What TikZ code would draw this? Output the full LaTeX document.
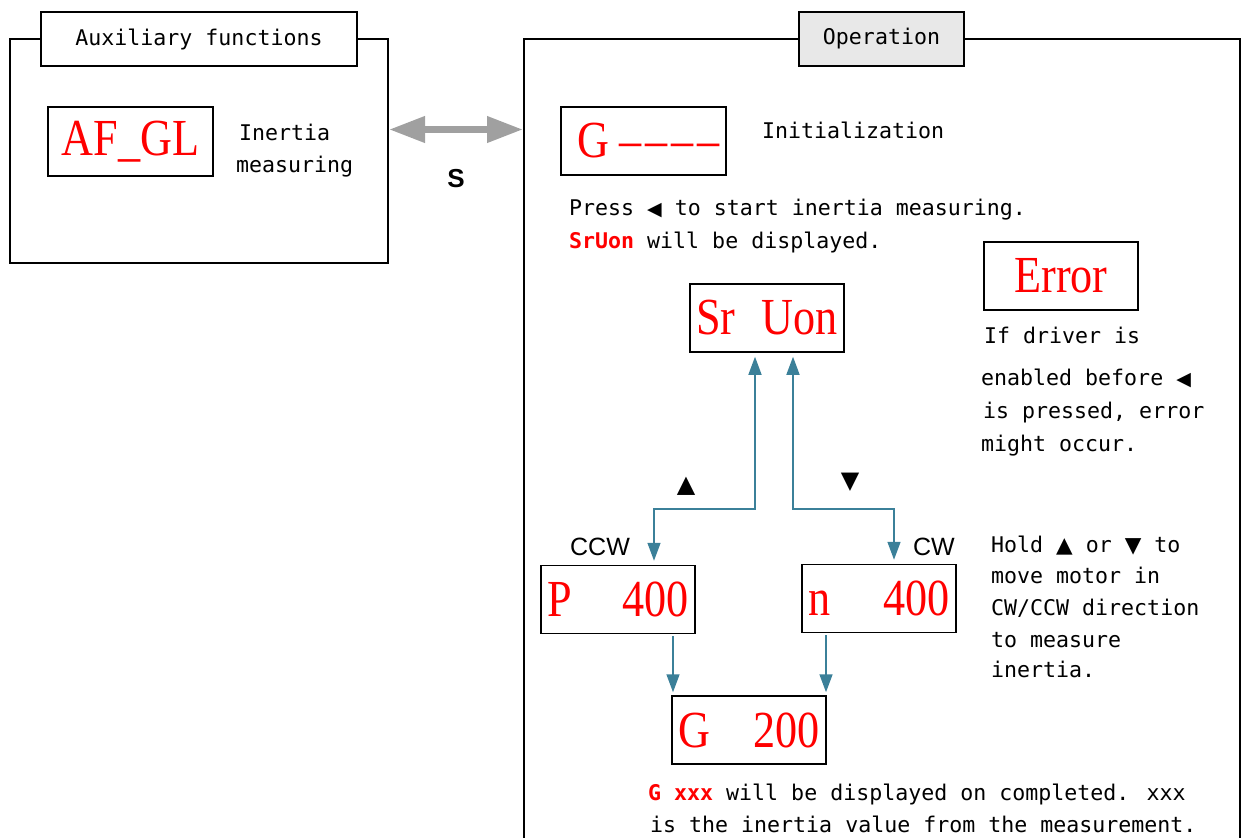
\documentclass[tikz,border=0pt]{standalone}
\usepackage{fontspec}
\usetikzlibrary{arrows.meta}
\setmainfont{DejaVu Sans Mono}
\newfontfamily\dispfont[FakeStretch=0.85]{Liberation Serif}
\newfontfamily\symfont{DejaVu Sans}
\newfontfamily\labfont{Liberation Sans}
\definecolor{lcd}{HTML}{FF0000}
\definecolor{link}{HTML}{3B8099}
\definecolor{swapgray}{HTML}{A0A0A0}
\definecolor{tabgray}{HTML}{E8E8E8}
\newcommand{\keyleft}{{\symfont\fontsize{19}{19}\selectfont ◀}}
\newcommand{\keyup}{{\symfont ▲}}
\newcommand{\keydown}{{\symfont ▼}}

\begin{document}
\begin{tikzpicture}[x=1pt,y=-1pt,
  panel/.style={line width=1.5pt},
  tabbox/.style={draw,line width=1.5pt,minimum width=#1,minimum height=54pt,inner sep=0pt,font=\fontsize{21.6}{21.6}\selectfont},
  lcdbox/.style={draw,line width=1.5pt,minimum width=154pt,minimum height=68pt,inner sep=0pt,text=lcd,font=\dispfont\fontsize{52}{52}\selectfont},
  note/.style={anchor=base west,inner sep=0pt,font=\fontsize{21.6}{21.6}\selectfont},
  link/.style={draw=link,line width=1.5pt,shorten <=4pt,shorten >=4pt,{Triangle[length=18pt,width=13pt]}-{Triangle[length=18pt,width=13pt]}},
  down/.style={draw=link,line width=1.5pt,shorten <=2pt,shorten >=3pt,-{Triangle[length=18pt,width=13pt]}},
  tri/.style={inner sep=0pt,font=\symfont\fontsize{24}{24}\selectfont},
  dirlabel/.style={anchor=base,inner sep=0pt,font=\labfont\fontsize{25}{25}\selectfont}]
  \useasboundingbox (0,0) rectangle (1248,838);

  % left panel
  \draw[panel] (10,39) rectangle (388,263);
  \node[tabbox=316pt,fill=white] (auxtab) at (199,39) {Auxiliary functions};
  \node[lcdbox,minimum width=165pt,minimum height=69pt] (afgl) at (130.5,141.5) {AF\_GL};
  \node[note] (inertia) at (239,140) {Inertia};
  \node[note] (measuring) at (236,172) {measuring};

  % switching between panels
  \coordinate (auxedge) at (389,129.5);
  \coordinate (opedge) at (523,129.5);
  \draw[swapgray,line width=7pt,{Triangle[length=36pt,width=25pt]}-{Triangle[length=36pt,width=25pt]}] (auxedge) -- (opedge);
  \node[anchor=base,inner sep=0pt,font=\labfont\bfseries\fontsize{26}{26}\selectfont] (skey) at (456,187) {S};

  % right panel
  \draw[panel] (524,838) -- (524,39) -- (1240,39) -- (1240,838);
  \node[tabbox=165pt,fill=tabgray] (optab) at (881.5,39) {Operation};

  \node[lcdbox,minimum width=165pt,text width=152pt] (init) at (643.5,141) {\hspace*{10pt}G\hfill –\kern4pt–\kern4pt–\kern4pt–};
  \node[note] (initnote) at (762,138) {Initialization};
  \node[note] (press) at (569,215) {Press \keyleft{} to start inertia measuring.};
  \node[note] (shown) at (569,248) {\textcolor{lcd}{\bfseries SrUon} will be displayed.};

  \node[lcdbox] (err) at (1061,276) {Error};
  \node[note] (err1) at (984,343) {If driver is};
  \node[note] (err2) at (981,385) {enabled before \keyleft};
  \node[note] (err3) at (983,418) {is pressed, error};
  \node[note] (err4) at (981,451) {might occur.};

  \node[lcdbox] (srun) at (767,318) {Sr\hspace{26pt}Uon};
  \node[lcdbox,text width=142pt] (ccwbox) at (618,599.5) {P\hfill 400};
  \node[lcdbox,text width=142pt] (cwbox) at (879,598.5) {n\hfill 400};
  \node[lcdbox,text width=142pt] (done) at (749,730) {G\hfill 200};

  \draw[link] ([xshift=-12pt]srun.south) -- ++(0,156) -| ([xshift=36pt]ccwbox.north);
  \draw[link] ([xshift=26pt]srun.south) -- ++(0,156) -| ([xshift=15pt]cwbox.north);
  \draw[down] ([xshift=55pt]ccwbox.south) -- ([xshift=55pt]ccwbox.south |- done.north);
  \draw[down] ([xshift=-53pt]cwbox.south) -- ([xshift=-53pt]cwbox.south |- done.north);

  \node[tri] (upkey) at (686,486) {▲};
  \node[tri] (downkey) at (850,482) {▼};
  \node[dirlabel] (ccw) at (600,555) {CCW};
  \node[dirlabel] (cw) at (934,555) {CW};

  \node[note] (hold1) at (991,552) {Hold \keyup{} or \keydown{} to};
  \node[note] (hold2) at (991,583) {move motor in};
  \node[note] (hold3) at (991,615) {CW/CCW direction};
  \node[note] (hold4) at (991,647) {to measure};
  \node[note] (hold5) at (991,677) {inertia.};

  \node[note] (result1) at (648,800) {\textcolor{lcd}{\bfseries G xxx} will be displayed on completed. xxx};
  \node[note] (result2) at (650,832) {is the inertia value from the measurement.};
\end{tikzpicture}
\end{document}
